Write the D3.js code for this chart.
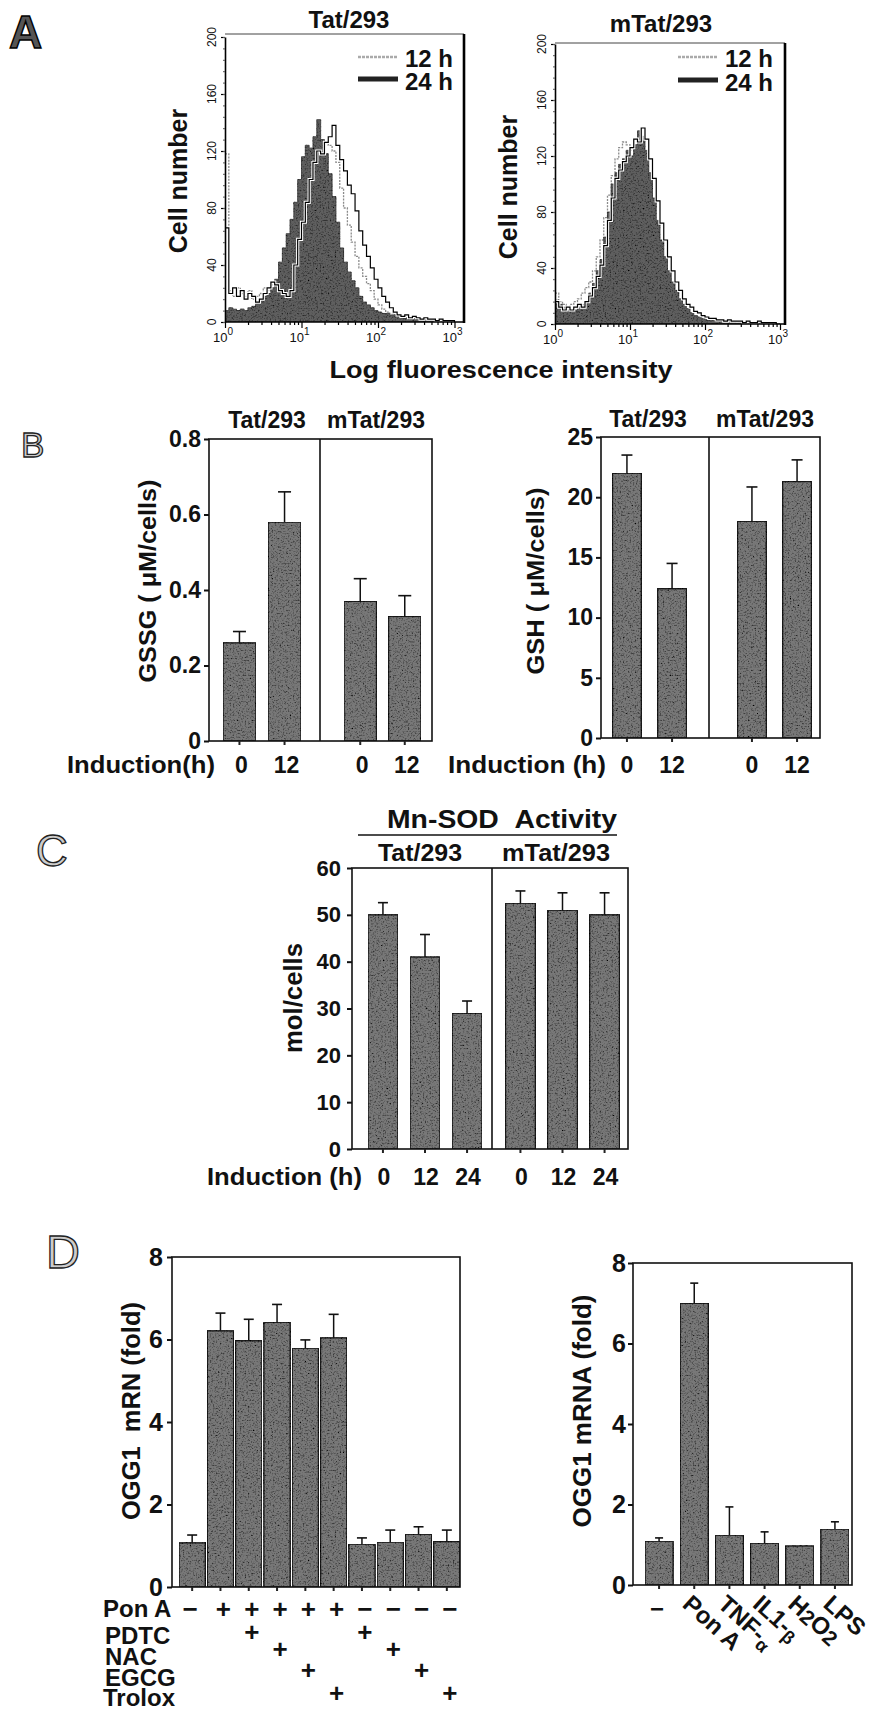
<!DOCTYPE html>
<html>
<head>
<meta charset="utf-8">
<script src="https://cdn.jsdelivr.net/npm/d3@7/dist/d3.min.js"></script>
<style>
html,body{margin:0;padding:0;background:#fff;}
svg{display:block;}
</style>
</head>
<body>
<svg id="fig" width="876" height="1711" xmlns="http://www.w3.org/2000/svg">
  <defs>
    <filter id="grain" x="0%" y="0%" width="100%" height="100%">
      <feTurbulence type="fractalNoise" baseFrequency="0.6" numOctaves="2" seed="11" result="noise"/>
      <feColorMatrix in="noise" type="matrix" values="0 0 0 0 0  0 0 0 0 0  0 0 0 0 0  2.6 0 0 0 -1.25" result="dots"/>
      <feComposite in="dots" in2="SourceGraphic" operator="in" result="dotsIn"/>
      <feMerge><feMergeNode in="SourceGraphic"/><feMergeNode in="dotsIn"/></feMerge>
    </filter>
  </defs>
</svg>
<script>
// ================= DATA =================
// Panel A: flow histograms, bins in log10(fluorescence)
const histBins = [0.00,0.05,0.10,0.15,0.20,0.25,0.30,0.35,0.40,0.45,0.50,0.55,0.60,0.65,0.70,0.75,0.80,0.85,0.90,0.95,
  1.00,1.05,1.10,1.15,1.20,1.25,1.30,1.35,1.40,1.45,1.50,1.55,1.60,1.65,1.70,1.75,1.80,1.85,1.90,1.95,
  2.00,2.05,2.10,2.15,2.20,2.25,2.30,2.35,2.40,2.45,2.50,2.55,2.60,2.65,2.70,2.75,2.80,2.85,2.90,2.95,3.00];
const histYTicks = [0,40,80,120,160,200];
const histXExponents = [0,1,2,3];
const histLegend = ["12 h","24 h"];

const tatShaded = [8,10,9,8,9,8,10,11,13,15, 18,20,24,30,42,52,62,72,84,100, 116,124,122,130,142,128,118,104,88,70,
  52,42,35,29,24,18,14,12,10,8, 7,6,6,5,5,4,4,3,3,3, 2,2,2,1,1,1,1,1,0,0,0];
const tat24h = [66,20,24,18,22,16,20,18,14,16, 20,24,28,26,22,20,18,22,40,58, 70,84,100,112,120,118,126,130,138,124,
  114,106,96,90,78,64,54,46,38,30, 24,18,14,10,7,5,4,5,3,4, 3,2,3,2,2,1,2,1,1,1,0];
const tat12h = [118,22,18,24,20,18,22,16,18,20, 24,22,26,24,22,20,24,30,40,52, 62,74,86,98,108,118,126,124,120,112,
  94,80,68,56,46,38,32,27,22,16, 12,9,7,6,5,4,4,3,3,2, 2,2,1,2,1,1,1,1,0,0,0];

const mtatShaded = [17,14,12,10,10,10,12,14,16,22, 29,38,46,62,80,100,108,114,118,124, 120,128,138,134,124,108,90,74,60,48,
  38,30,24,18,14,11,8,6,5,4, 3,3,3,2,2,2,2,1,2,1, 1,1,1,1,1,0,1,0,0,0,0];
const mtat24h = [16,12,10,12,10,12,14,12,16,20, 26,34,42,56,74,90,104,110,116,120, 126,132,130,140,132,118,104,88,72,60,
  48,38,30,24,18,14,12,9,8,6, 5,4,4,3,3,2,3,2,2,2, 1,2,1,1,2,1,1,1,1,0,0];
const mtat12h = [22,16,14,12,14,16,18,22,26,30, 38,48,60,76,92,106,118,126,130,128, 124,118,108,96,82,68,56,44,36,28,
  22,17,13,10,8,6,5,4,4,3, 3,2,2,2,1,2,1,1,1,1, 1,0,1,0,0,1,0,0,0,0,0];

// Panel B
const cellLines = ["Tat/293","mTat/293"];
const inductionB = ["0","12"];
const gssgValues = [0.26, 0.58, 0.37, 0.33];
const gssgErrors = [0.03, 0.08, 0.06, 0.055];
const gssgTicks = [0,0.2,0.4,0.6,0.8];
const gshValues = [22.0, 12.4, 18.0, 21.3];
const gshErrors = [1.5, 2.1, 2.85, 1.8];
const gshTicks = [0,5,10,15,20,25];

// Panel C
const inductionC = ["0","12","24"];
const sodValues = [50, 41, 29, 52.5, 51, 50];
const sodErrors = [2.6, 4.8, 2.6, 2.6, 3.7, 4.7];
const sodTicks = [0,10,20,30,40,50,60];

// Panel D (left)
const oggLeftValues = [1.07, 6.21, 5.97, 6.42, 5.79, 6.04, 1.04, 1.09, 1.28, 1.10];
const oggLeftErrors = [0.19, 0.43, 0.52, 0.43, 0.20, 0.57, 0.15, 0.29, 0.18, 0.28];
const treatNames = ["Pon A","PDTC","NAC","EGCG","Trolox"];
const ponA   = ["−","+","+","+","+","+","−","−","−","−"];
const pdtc   = ["","","+","","","","+","","",""];
const nac    = ["","","","+","","","","+","",""];
const egcg   = ["","","","","+","","","","+",""];
const trolox = ["","","","","","+","","","","+"];
// Panel D (right)
const stimLabels = ["−","Pon A","TNF-α","IL1-β","H2O2","LPS"];
const oggRightValues = [1.09, 7.0, 1.24, 1.04, 0.97, 1.39];
const oggRightErrors = [0.08, 0.5, 0.7, 0.28, 0, 0.18];
const oggTicks = [0,2,4,6,8];

// ================= DRAWING =================
const FONT = "'Liberation Sans', Arial, Helvetica, sans-serif";
const INK = "#111";
const BARFILL = "#787878";
const svg = d3.select("#fig");

function txt(g, x, y, s, o = {}) {
  const t = g.append("text").attr("x", x).attr("y", y).text(s)
    .attr("font-family", FONT).attr("font-size", o.size || 22)
    .attr("font-weight", o.weight || "bold")
    .attr("text-anchor", o.anchor || "start")
    .attr("fill", o.fill || INK);
  if (o.len) t.attr("textLength", o.len).attr("lengthAdjust", "spacingAndGlyphs");
  if (o.rotate != null) t.attr("transform", `rotate(${o.rotate},${x},${y})`);
  if (o.baseline) t.attr("dominant-baseline", o.baseline);
  if (o.stroke) t.attr("stroke", o.stroke).attr("stroke-width", o.sw || 1);
  return t;
}

// ---------- Panel A ----------
function histPanel(c) {
  const g = svg.append("g");
  const x = d3.scaleLog().domain([1, 1000]).range([c.x0, c.x3]);
  const y = d3.scaleLinear().domain([0, 200]).range([c.y0, c.y200]);
  const cid = "clip" + c.id;
  g.append("clipPath").attr("id", cid).append("rect")
    .attr("x", c.x0).attr("y", c.top).attr("width", c.right - c.x0).attr("height", c.y0 - c.top);
  const pts = arr => arr.map((v, i) => [Math.pow(10, histBins[i]), v]);
  const area = d3.area().x(d => x(d[0])).y0(c.y0).y1(d => y(d[1])).curve(d3.curveStepAfter);
  const line = d3.line().x(d => x(d[0])).y(d => y(d[1])).curve(d3.curveStepAfter);
  const pg = g.append("g").attr("clip-path", `url(#${cid})`);
  pg.append("path").attr("d", line(pts(c.s12))).attr("fill", "none")
    .attr("stroke", "#8a8a8a").attr("stroke-width", 1.3).attr("stroke-dasharray", "2,1.2");
  pg.append("path").attr("d", area(pts(c.shaded))).attr("fill", "#5e5e5e")
    .attr("stroke", "#333").attr("stroke-width", 0.8).attr("filter", "url(#grain)");
  pg.append("path").attr("d", line(pts(c.s24))).attr("fill", "none")
    .attr("stroke", "#fff").attr("stroke-width", 3.2);
  pg.append("path").attr("d", line(pts(c.s24))).attr("fill", "none")
    .attr("stroke", "#000").attr("stroke-width", 1.2);

  // frame
  g.append("line").attr("x1", c.x0).attr("x2", c.right).attr("y1", c.top).attr("y2", c.top)
    .attr("stroke", "#444").attr("stroke-width", 1);
  g.append("line").attr("x1", c.right).attr("x2", c.right).attr("y1", c.top).attr("y2", c.y0 + 1)
    .attr("stroke", "#000").attr("stroke-width", 2.6);
  g.append("line").attr("x1", c.x0).attr("x2", c.right).attr("y1", c.y0).attr("y2", c.y0)
    .attr("stroke", "#000").attr("stroke-width", 1.6);

  // x axis (log) ticks
  const minor = [];
  for (let k = 0; k < 3; k++) for (let m = 2; m <= 9; m++) minor.push(m * Math.pow(10, k));
  const axMinor = d3.axisBottom(x).tickValues(minor).tickSize(3).tickFormat("");
  const axMajor = d3.axisBottom(x).tickValues(histXExponents.map(e => Math.pow(10, e))).tickSize(6).tickFormat("");
  [axMinor, axMajor].forEach(ax => {
    const a = g.append("g").attr("transform", `translate(0,${c.y0})`).call(ax);
    a.select(".domain").remove();
    a.selectAll("line").attr("stroke", "#000").attr("stroke-width", 1.2);
  });
  histXExponents.forEach(e => {
    const t = txt(g, x(Math.pow(10, e)) - 2, c.y0 + 20, "10", { size: 13, weight: "normal", anchor: "middle" });
    t.append("tspan").attr("dy", -7).attr("font-size", 10).text(e);
  });

  // y axis
  const ay = g.append("g").attr("transform", `translate(${c.x0},0)`)
    .call(d3.axisLeft(y).tickValues(histYTicks).tickSize(4).tickSizeOuter(0).tickFormat(""));
  ay.select(".domain").attr("stroke", "#000").attr("stroke-width", 1.6);
  ay.selectAll("line").attr("stroke", "#000").attr("stroke-width", 1.2);
  const ayMinor = g.append("g").attr("transform", `translate(${c.x0},0)`)
    .call(d3.axisLeft(y).tickValues(d3.range(0, 201, 8)).tickSize(2).tickFormat(""));
  ayMinor.select(".domain").remove();
  ayMinor.selectAll("line").attr("stroke", "#555");
  histYTicks.forEach(v => {
    txt(g, c.x0 - 9, y(v), String(v), { size: 12, weight: "normal", anchor: "middle", rotate: -90 });
  });

  // title, y label
  txt(g, c.titleX, c.titleY, c.title, { size: 24, anchor: "middle" });
  txt(g, c.ylabX, c.ylabY, "Cell number", { size: 25, anchor: "middle", rotate: -90, baseline: "central" });

  // legend
  g.append("line").attr("x1", c.legX).attr("x2", c.legX + 40).attr("y1", c.legY1).attr("y2", c.legY1)
    .attr("stroke", "#aaa").attr("stroke-width", 2.5).attr("stroke-dasharray", "3,1");
  g.append("line").attr("x1", c.legX).attr("x2", c.legX + 40).attr("y1", c.legY2).attr("y2", c.legY2)
    .attr("stroke", "#222").attr("stroke-width", 5);
  txt(g, c.legX + 47, c.legY1 + 10, histLegend[0], { size: 24 });
  txt(g, c.legX + 47, c.legY2 + 11, histLegend[1], { size: 24 });
}

histPanel({ id: "L", x0: 225, x3: 454.5, right: 464, top: 34, y0: 322, y200: 37,
  shaded: tatShaded, s12: tat12h, s24: tat24h, title: cellLines[0], titleX: 349, titleY: 28,
  ylabX: 178, ylabY: 181, legX: 358, legY1: 57, legY2: 79 });
histPanel({ id: "R", x0: 555, x3: 780, right: 785, top: 43, y0: 324, y200: 44,
  shaded: mtatShaded, s12: mtat12h, s24: mtat24h, title: cellLines[1], titleX: 661, titleY: 32,
  ylabX: 508, ylabY: 187, legX: 678, legY1: 57, legY2: 80 });
txt(svg, 501, 378, "Log fluorescence intensity", { size: 23, anchor: "middle", len: 343 });

// ---------- generic bar panel ----------
function barPanel(o) {
  const g = svg.append("g");
  const y = d3.scaleLinear().domain(o.yDomain).range([o.bottom, o.top]);
  const centers = [];
  o.groups.forEach(gr => {
    const xb = d3.scaleBand().domain(gr.values.map((d, i) => i)).range(gr.range).paddingInner(gr.pad);
    const rows = gr.values.map((v, i) => ({ v, e: gr.errors[i], x: xb(i), w: xb.bandwidth() }));
    rows.forEach(r => centers.push(r.x + r.w / 2));
    g.selectAll(null).data(rows).join("rect")
      .attr("x", d => d.x).attr("y", d => y(d.v)).attr("width", d => d.w).attr("height", d => y(o.yDomain[0]) - y(d.v))
      .attr("fill", BARFILL).attr("stroke", "#1a1a1a").attr("stroke-width", 1.4).attr("filter", "url(#grain)");
    const er = rows.filter(d => d.e > 0);
    g.selectAll(null).data(er).join("line")
      .attr("x1", d => d.x + d.w / 2).attr("x2", d => d.x + d.w / 2)
      .attr("y1", d => y(d.v)).attr("y2", d => y(d.v + d.e))
      .attr("stroke", "#111").attr("stroke-width", 1.5);
    g.selectAll(null).data(er).join("line")
      .attr("x1", d => d.x + d.w / 2 - o.cap / 2).attr("x2", d => d.x + d.w / 2 + o.cap / 2)
      .attr("y1", d => y(d.v + d.e)).attr("y2", d => y(d.v + d.e))
      .attr("stroke", "#111").attr("stroke-width", 1.6);
  });
  // frame
  g.append("rect").attr("x", o.left).attr("y", o.top).attr("width", o.right - o.left).attr("height", o.bottom - o.top)
    .attr("fill", "none").attr("stroke", "#111").attr("stroke-width", 1.6);
  (o.dividers || []).forEach(dx => g.append("line").attr("x1", dx).attr("x2", dx)
    .attr("y1", o.top).attr("y2", o.bottom).attr("stroke", "#111").attr("stroke-width", 1.6));
  // y axis
  const ay = g.append("g").attr("transform", `translate(${o.left},0)`)
    .call(d3.axisLeft(y).tickValues(o.ticks).tickSize(5).tickSizeOuter(0).tickPadding(o.tickPad || 3).tickFormat(o.fmt));
  ay.select(".domain").remove();
  ay.selectAll("line").attr("stroke", "#111").attr("stroke-width", 2);
  ay.selectAll("text").attr("font-family", FONT).attr("font-size", o.tickSize || 23)
    .attr("font-weight", "bold").attr("fill", INK);
  // bottom tick marks under bars
  g.selectAll(null).data(centers).join("line")
    .attr("x1", d => d).attr("x2", d => d).attr("y1", o.bottom).attr("y2", o.bottom + 4)
    .attr("stroke", "#222").attr("stroke-width", 2);
  return { g, y, centers };
}

// ---------- Panel B ----------
const bL = barPanel({ left: 209, right: 432, top: 439, bottom: 741, yDomain: [0, 0.8], ticks: gssgTicks,
  fmt: d => d === 0 ? "0" : d.toFixed(1), cap: 13, dividers: [320], tickPad: 3,
  groups: [{ values: gssgValues.slice(0, 2), errors: gssgErrors.slice(0, 2), range: [223, 301], pad: 0.27 },
           { values: gssgValues.slice(2), errors: gssgErrors.slice(2), range: [344, 421], pad: 0.27 }] });
const bR = barPanel({ left: 601, right: 820, top: 437, bottom: 738, yDomain: [0, 25], ticks: gshTicks,
  fmt: d => String(d), cap: 11, dividers: [709], tickPad: 3,
  groups: [{ values: gshValues.slice(0, 2), errors: gshErrors.slice(0, 2), range: [612.5, 686.5], pad: 0.36 },
           { values: gshValues.slice(2), errors: gshErrors.slice(2), range: [737.5, 811.5], pad: 0.36 }] });
[bL, bR].forEach((p, k) => {
  p.centers.forEach((cx, i) => txt(svg, cx + (k === 0 ? 2 : 0), 773, inductionB[i % 2], { size: 23, anchor: "middle" }));
});
txt(svg, 67, 773, "Induction(h)", { size: 23, len: 148 });
txt(svg, 448, 773, "Induction (h)", { size: 23, len: 158 });
txt(svg, 267, 428, cellLines[0], { size: 23, anchor: "middle" });
txt(svg, 376, 428, cellLines[1], { size: 23, anchor: "middle" });
txt(svg, 648, 427, cellLines[0], { size: 23, anchor: "middle" });
txt(svg, 765, 427, cellLines[1], { size: 23, anchor: "middle" });
txt(svg, 148, 581, "GSSG ( μM/cells)", { size: 23, anchor: "middle", rotate: -90, baseline: "central", len: 203 });
txt(svg, 536, 581, "GSH ( μM/cells)", { size: 23, anchor: "middle", rotate: -90, baseline: "central", len: 187 });

// ---------- Panel C ----------
const cP = barPanel({ left: 352, right: 628, top: 868, bottom: 1149, yDomain: [0, 60], ticks: sodTicks,
  fmt: d => String(d), cap: 10, dividers: [492], tickPad: 6, tickSize: 22,
  groups: [{ values: sodValues.slice(0, 3), errors: sodErrors.slice(0, 3), range: [368, 482], pad: 0.29 },
           { values: sodValues.slice(3), errors: sodErrors.slice(3), range: [505.5, 619.5], pad: 0.29 }] });
cP.centers.forEach((cx, i) => txt(svg, cx + 1, 1185, inductionC[i % 3], { size: 23, anchor: "middle" }));
txt(svg, 207, 1185, "Induction (h)", { size: 23, len: 155 });
txt(svg, 387, 828, "Mn-SOD\u00a0\u00a0Activity", { size: 25, len: 230 });
svg.append("line").attr("x1", 358).attr("x2", 617).attr("y1", 835).attr("y2", 835)
  .attr("stroke", "#111").attr("stroke-width", 1.6);
txt(svg, 420, 861, cellLines[0], { size: 24, anchor: "middle", len: 84 });
txt(svg, 556, 861, cellLines[1], { size: 24, anchor: "middle", len: 108 });
txt(svg, 293, 998, "mol/cells", { size: 25, anchor: "middle", rotate: -90, baseline: "central", len: 110 });

// ---------- Panel D left ----------
const dL = barPanel({ left: 172, right: 460, top: 1257, bottom: 1587, yDomain: [0, 8], ticks: oggTicks,
  fmt: d => String(d), cap: 10, tickPad: 4, tickSize: 25,
  groups: [{ values: oggLeftValues, errors: oggLeftErrors, range: [179, 460], pad: 0.07 }] });
txt(svg, 131, 1411, "OGG1\u00a0\u00a0mRN (fold)", { size: 25, anchor: "middle", rotate: -90, baseline: "central", len: 218 });
const rowBase = [1617, 1644, 1665, 1686, 1706];
const signBase = [1618, 1641, 1658, 1679, 1702];
const rowSigns = [ponA, pdtc, nac, egcg, trolox];
treatNames.forEach((nm, r) => {
  txt(svg, r === 0 || r === 4 ? 103 : 105, rowBase[r], nm, { size: 24 });
  rowSigns[r].forEach((s, i) => {
    if (s) txt(svg, dL.centers[i] + (i === 0 ? -2 : 3), signBase[r], s, { size: 26, anchor: "middle" });
  });
});

// ---------- Panel D right ----------
const dR = barPanel({ left: 633, right: 852, top: 1263, bottom: 1585, yDomain: [0, 8], ticks: oggTicks,
  fmt: d => String(d), cap: 8, tickPad: 2, tickSize: 25,
  groups: [{ values: oggRightValues, errors: oggRightErrors, range: [645, 849], pad: 0.2 }] });
txt(svg, 582, 1411, "OGG1 mRNA (fold)", { size: 25, anchor: "middle", rotate: -90, baseline: "central", len: 233 });
stimLabels.forEach((lab, i) => {
  const cx = dR.centers[i];
  if (lab === "−") { txt(svg, cx - 2, 1617, lab, { size: 24, anchor: "middle" }); return; }
  const px = cx - 13, py = 1606;
  const t = svg.append("text").attr("x", px).attr("y", py)
    .attr("font-family", FONT).attr("font-size", 24).attr("font-weight", "bold").attr("fill", INK)
    .attr("transform", `rotate(42,${px},${py})`);
  const m = lab.match(/^(.*-)([αβ])$/);
  if (m) {
    t.append("tspan").text(m[1]);
    t.append("tspan").attr("font-size", 18).attr("dy", 5).text(m[2]);
  } else if (lab === "H2O2") {
    t.append("tspan").text("H");
    t.append("tspan").attr("font-size", 21).attr("dy", 2).text("2");
    t.append("tspan").attr("dy", -2).text("O");
    t.append("tspan").attr("font-size", 21).attr("dy", 2).text("2");
  } else t.text(lab);
});

// ---------- panel letters ----------
txt(svg, 9, 48, "A", { size: 46, fill: "#555", stroke: "#000", sw: 1.4 });
txt(svg, 21, 457, "B", { size: 35, weight: "normal", fill: "#ccc", stroke: "#222", sw: 1.3 });
txt(svg, 36, 866, "C", { size: 44, weight: "normal", fill: "#ccc", stroke: "#222", sw: 1.3 });
txt(svg, 46, 1268, "D", { size: 47, weight: "normal", fill: "#ccc", stroke: "#222", sw: 1.3 });
</script>
</body>
</html>
